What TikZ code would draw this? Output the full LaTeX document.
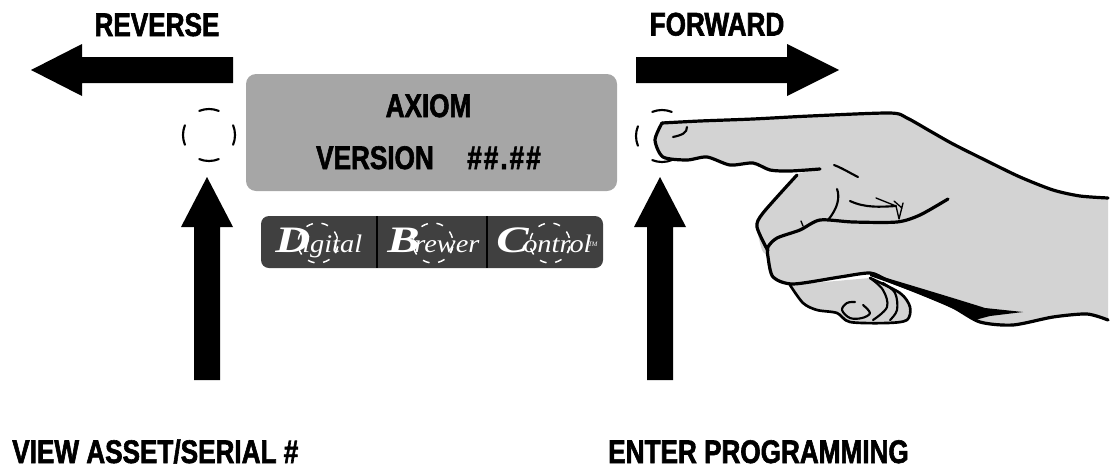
\documentclass[tikz,border=0pt]{standalone}
\usepackage{fontspec}
\setmainfont[FakeStretch=0.8,FakeBold=1.8]{Liberation Sans Bold}
\newfontfamily\logobig[FakeStretch=1.3]{Liberation Serif Bold Italic}
\newfontfamily\logosmall[FakeStretch=1.12]{Liberation Serif Italic}
\newfontfamily\logotm{Liberation Serif Italic}
\definecolor{panelgray}{HTML}{A6A6A6}
\definecolor{logogray}{HTML}{404040}
\definecolor{handgray}{HTML}{D3D3D3}
\tikzset{
 bigarrow/.style={fill=black,draw=none},
 label/.style={font=\fontsize{24.5}{26}\selectfont,text=black,inner sep=0pt},
 panel/.style={fill=panelgray,draw=none},
 ring/.style={draw=black,line width=1.6pt,line cap=round},
 logoring/.style={draw=white,line width=1.1pt},
 handline/.style={draw=black,line width=1.6pt,line cap=round,line join=round},
 handmain/.style={draw=black,line width=2.4pt,line cap=round,line join=round},
 handfine/.style={draw=black,line width=1pt,line cap=round,line join=round},
 big/.style={font=\logobig\fontsize{28}{28}\selectfont,text=white,inner sep=0pt,anchor=base west},
 small/.style={font=\logosmall\fontsize{19}{19}\selectfont,text=white,inner sep=0pt,anchor=base west},
}
\begin{document}
\begin{tikzpicture}[x=0.75pt,y=-0.75pt]
\useasboundingbox (0,0) rectangle (1112,468);
% arrows
\path[bigarrow] (31,70) -- (82,44) -- (82,57) -- (233,57) -- (233,83) -- (82,83) -- (82,96) -- cycle;
\path[bigarrow] (839,70) -- (787,44) -- (787,57) -- (636,57) -- (636,83) -- (787,83) -- (787,96) -- cycle;
\path[bigarrow] (207,177) -- (233,227) -- (220,227) -- (220,380) -- (194,380) -- (194,227) -- (181,227) -- cycle;
\path[bigarrow] (660,177) -- (686,227) -- (673,227) -- (673,380) -- (647,380) -- (647,227) -- (634,227) -- cycle;
% panel
\path[panel,rounded corners=7.5pt] (246,74) rectangle (617,191);
\node[label,anchor=base] (axiom) at (428.5,117) {AXIOM};
\node[label,anchor=base] (version) at (375,169) {VERSION};
\node[label,anchor=base] (num) at (504,169) {\#\kern1.5pt\#\kern1.5pt.\kern1.5pt\#\kern1.5pt\#};
\node[label,anchor=base] (rev) at (157,36) {REVERSE};
\node[label,anchor=base] (fwd) at (717,35.5) {FORWARD};
\node[label,anchor=base west] (asset) at (12,463) {VIEW ASSET/SERIAL \#};
\node[label,anchor=base west] (prog) at (608,463) {ENTER PROGRAMMING};
% logo
\path[fill=logogray,rounded corners=6pt] (261,216) rectangle (603,268);
\draw[black,line width=0.9pt] (377,216) -- (377,268) (487,216) -- (487,268);
\node[big] (d) at (275,252) {D};
\node[small] (dt) at (302,252) {igital};
\node[big] (b) at (387,252) {B};
\node[small] (bt) at (414,252) {rewer};
\node[big] (c) at (496,252) {C};
\node[small] (ct) at (523,252) {ontrol};
\node[font=\logotm\fontsize{5}{5}\selectfont,text=white,inner sep=0pt,anchor=base west] (tm) at (588,246) {TM};
\foreach \cx in {318,433,550}{
 \foreach \a in {20,65,...,380}{
  \draw[logoring] (\cx,243) ++(\a-10:20) arc[start angle=\a-10,end angle=\a+10,radius=20];
 }
}
% rings
\foreach \a in {0,90,180,270}{
 \draw[ring] (209,135) ++(\a-22:26) arc[start angle=\a-22,end angle=\a+22,radius=26];
}
\foreach \a in {90,180,270}{
 \draw[ring] (662,136) ++(\a-22:26) arc[start angle=\a-22,end angle=\a+22,radius=26];
}
% hand: curled little fingers
\draw[handline,fill=handgray,line width=2pt] plot[smooth,tension=.5] coordinates {(790,285) (803,303) (817,310) (837,313) (850,322) (887,323) (907,320) (910,307) (900,293) (870,278)};
\draw[handline] plot[smooth,tension=.6] coordinates {(870,278) (883,290) (887,307) (873,320)};
\draw[handline] plot[smooth,tension=.6] coordinates {(883,283) (895,293) (897,310) (890,320)};
\draw[handline] plot[smooth,tension=.6] coordinates {(855,302) (847,303) (842,310) (850,318) (862,318) (870,313) (863,305)};
% hand: main shape
\path[fill=handgray] plot[smooth,tension=.45] coordinates {(662,123) (700,121) (753,119) (810,116) (890,113) (907,118) (930,131) (953,144) (987,161) (1020,177) (1053,190) (1080,196) (1108,197)} -- (1108,320) -- plot[smooth,tension=.45] coordinates {(1108,320) (1087,314) (1053,317) (1013,325) (980,322) (953,307) (920,293) (887,280) (870,273) (840,277) (793,284) (773,277) (768,257) (762,250) (757,227) (763,213) (797,175) (820,169) (770,170) (753,163) (730,165) (707,157) (687,160) (663,157) (655,140) (662,123)};
\draw[handmain] plot[smooth,tension=.45] coordinates {(662,123) (700,121) (753,119) (810,116) (890,113) (907,118) (930,131) (953,144) (987,161) (1020,177) (1053,190) (1080,196) (1108,198)};
\draw[handmain] plot[smooth,tension=.45] coordinates {(1108,320) (1087,314) (1053,317) (1013,325) (980,322) (953,307) (920,293) (887,280) (870,273) (840,277) (793,284) (773,277) (768,257) (768,247) (777,238) (800,230) (820,220) (853,222) (897,222) (920,215) (948,199)};
\draw[handmain] plot[smooth,tension=.45] coordinates {(768,251) (757,227) (763,213) (797,175)};
\draw[handmain] plot[smooth,tension=.45] coordinates {(820,169) (790,171) (770,170) (753,163) (730,165) (707,157) (687,160) (663,157) (655,140) (662,123)};
% hand details
\draw[handline] (673,137) .. controls (682,135) and (687,133) .. (687,127);
\draw[handline] (834,165) .. controls (842,168) and (850,173) .. (858,177);
\draw[handline] (837,189) .. controls (840,197) and (838,208) .. (828,220);
\draw[handline] (850,201) .. controls (865,208) and (880,207) .. (896,206);
\draw[handfine] (876,198) -- (896,206) -- (899,219) (903,203) -- (899,219) (894,201) -- (902,208);
\draw[handfine] (801,221) -- (803,226);
\path[fill=black] (870,273) .. controls (910,285) and (960,300) .. (985,308) -- (1023,312) -- (990,316) -- (975,320) .. controls (950,305) and (910,290) .. (870,276) -- cycle;
\end{tikzpicture}
\end{document}
